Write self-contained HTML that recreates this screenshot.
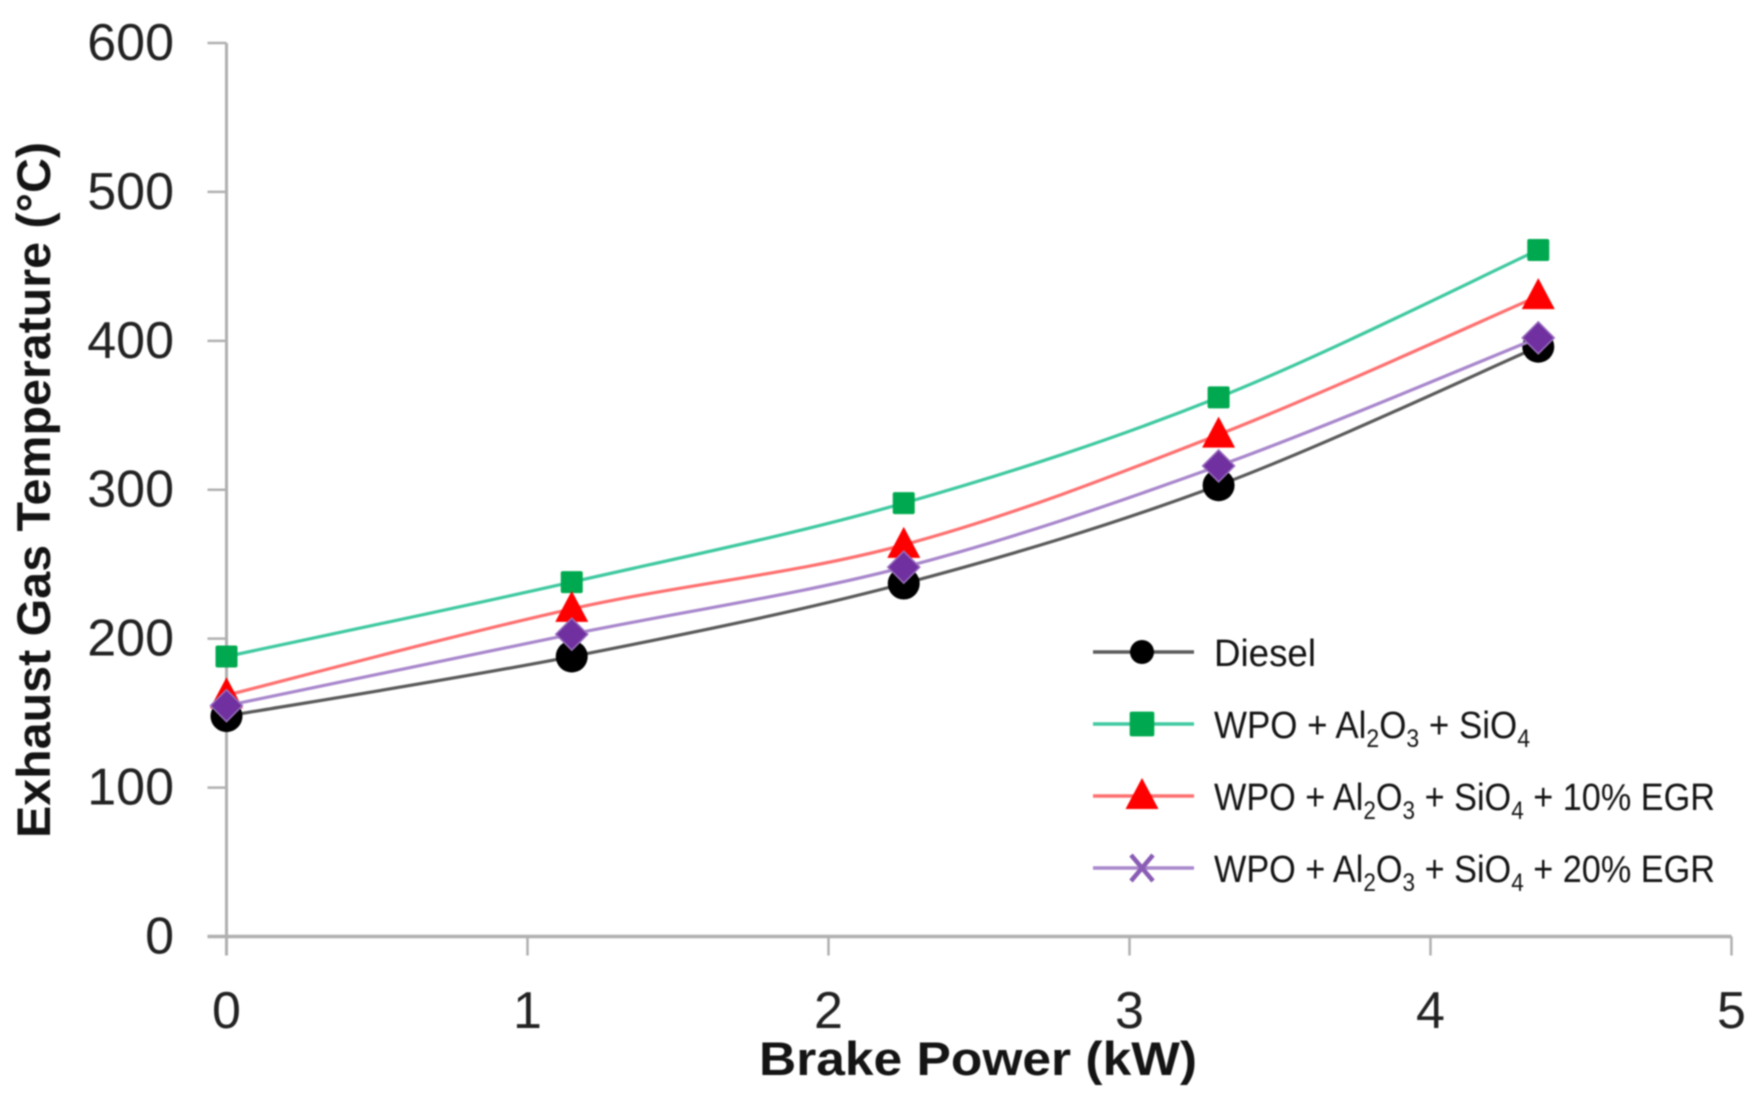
<!DOCTYPE html>
<html lang="en">
<head>
<meta charset="utf-8">
<title>Exhaust Gas Temperature vs Brake Power</title>
<style>
html,body{margin:0;padding:0;background:#fff;width:1753px;height:1097px;overflow:hidden}
svg{display:block;filter:blur(0.9px)}
text{font-family:"Liberation Sans",sans-serif;fill:#222}
.tick{font-size:52px}
.title{font-size:47px;font-weight:bold;fill:#141414}
.legend{font-size:38px;fill:#141414}
.sub{font-size:25px}
</style>
</head>
<body>
<svg id="chart" width="1753" height="1097" viewBox="0 0 1753 1097" xmlns="http://www.w3.org/2000/svg">
  <g id="axes"></g>
  <g id="series"></g>
  <text class="title" transform="translate(50,838) rotate(-90)" textLength="696" lengthAdjust="spacingAndGlyphs">Exhaust Gas Temperature (°C)</text>
  <text class="title" x="759" y="1075" textLength="438" lengthAdjust="spacingAndGlyphs">Brake Power (kW)</text>
  <g id="legend">
    <text class="legend" x="1214" y="666" textLength="102" lengthAdjust="spacingAndGlyphs">Diesel</text>
    <text class="legend" x="1214" y="738" textLength="316" lengthAdjust="spacingAndGlyphs">WPO + Al<tspan class="sub" dy="9">2</tspan><tspan dy="-9">O</tspan><tspan class="sub" dy="9">3</tspan><tspan dy="-9"> + SiO</tspan><tspan class="sub" dy="9">4</tspan></text>
    <text class="legend" x="1214" y="810" textLength="501" lengthAdjust="spacingAndGlyphs">WPO + Al<tspan class="sub" dy="9">2</tspan><tspan dy="-9">O</tspan><tspan class="sub" dy="9">3</tspan><tspan dy="-9"> + SiO</tspan><tspan class="sub" dy="9">4</tspan><tspan dy="-9"> + 10% EGR</tspan></text>
    <text class="legend" x="1214" y="882" textLength="501" lengthAdjust="spacingAndGlyphs">WPO + Al<tspan class="sub" dy="9">2</tspan><tspan dy="-9">O</tspan><tspan class="sub" dy="9">3</tspan><tspan dy="-9"> + SiO</tspan><tspan class="sub" dy="9">4</tspan><tspan dy="-9"> + 20% EGR</tspan></text>
  </g>
</svg>
<script>
const brakePower = [0, 1.147, 2.25, 3.296, 4.358];
const dieselValues = [148, 188, 237, 303, 396];
const wpoValues = [188, 238, 291, 362, 461];
const wpo10EgrValues = [162, 220, 263, 337, 430];
const wpo20EgrValues = [155, 203, 248, 316, 402];
const xTickLabels = [0, 1, 2, 3, 4, 5];
const yTickLabels = [0, 100, 200, 300, 400, 500, 600];

const NS = 'http://www.w3.org/2000/svg';
const X0 = 226.5, XPER = 301, Y0 = 936.5, YPER = 1.4892;
function xScale(v) { return X0 + v * XPER; }
function yScale(v) { return Y0 - v * YPER; }
function make(tag, attrs, parent) {
  const el = document.createElementNS(NS, tag);
  for (const k in attrs) el.setAttribute(k, attrs[k]);
  parent.appendChild(el);
  return el;
}
const axes = document.getElementById('axes');
const seriesLayer = document.getElementById('series');
const legend = document.getElementById('legend');
const AXIS = '#b0b0b0';

const yAxisLine = make('line', {x1: xScale(0), x2: xScale(0), y1: yScale(600), y2: yScale(0) + 19, stroke: AXIS, 'stroke-width': 3}, axes);


const xAxisLine = make('line', {x1: xScale(0) - 19, x2: xScale(5), y1: yScale(0), y2: yScale(0), stroke: AXIS, 'stroke-width': 3.5}, axes);



yTickLabels.forEach(function (t) {
  const tick = make('line', {x1: xScale(0) - 19, x2: xScale(0), y1: yScale(t), y2: yScale(t), stroke: AXIS, 'stroke-width': 2.5}, axes);
  
  
  const label = make('text', {class: 'tick', x: 174, y: yScale(t) + 17, 'text-anchor': 'end'}, axes);
  
  
  label.textContent = t;
});
xTickLabels.forEach(function (t) {
  const tick = make('line', {x1: xScale(t), x2: xScale(t), y1: yScale(0), y2: yScale(0) + 19, stroke: AXIS, 'stroke-width': 2.5}, axes);
  
  
  const label = make('text', {class: 'tick', x: xScale(t), y: 1028, 'text-anchor': 'middle'}, axes);
  
  
  label.textContent = t;
});

function smoothPath(xs, ys) {
  const pts = xs.map(function (x, i) { return [xScale(x), yScale(ys[i])]; });
  let d = 'M' + pts[0][0] + ' ' + pts[0][1];
  for (let i = 0; i < pts.length - 1; i++) {
    const p0 = pts[Math.max(i - 1, 0)], p1 = pts[i], p2 = pts[i + 1], p3 = pts[Math.min(i + 2, pts.length - 1)];
    const c1x = p1[0] + (p2[0] - p0[0]) / 6, c1y = p1[1] + (p2[1] - p0[1]) / 6;
    const c2x = p2[0] - (p3[0] - p1[0]) / 6, c2y = p2[1] - (p3[1] - p1[1]) / 6;
    d += ' C' + c1x + ' ' + c1y + ' ' + c2x + ' ' + c2y + ' ' + p2[0] + ' ' + p2[1];
  }
  return d;
}
function drawMarker(kind, cx, cy, parent, k) {
  let el;
  if (kind === 'circle') {
    el = make('circle', {cx: cx, cy: cy, r: 16 * k, fill: '#000'}, parent);
  } else if (kind === 'square') {
    el = make('rect', {x: cx - 11 * k, y: cy - 11 * k, width: 22 * k, height: 22 * k, rx: 2, fill: '#00a94f'}, parent);
  } else if (kind === 'triangle') {
    el = make('polygon', {points: [cx, cy - 18, cx + 16.5, cy + 13, cx - 16.5, cy + 13].join(' '), fill: '#ff0000'}, parent);
  } else if (kind === 'diamond') {
    el = make('polygon', {points: [cx, cy - 16, cx + 16, cy, cx, cy + 16, cx - 16, cy].join(' '), fill: '#7030a0', stroke: '#9a70bd', 'stroke-width': 1.5}, parent);
  } else {
    el = make('path', {d: 'M' + (cx - 11) + ' ' + (cy - 13) + 'L' + (cx + 11) + ' ' + (cy + 13) + 'M' + (cx + 11) + ' ' + (cy - 13) + 'L' + (cx - 11) + ' ' + (cy + 13), stroke: '#8a5cb5', 'stroke-width': 4.5, fill: 'none'}, parent);
  }
  return el;
}
const seriesDefs = [
  {name: 'diesel', values: dieselValues, line: '#5a5a5a', marker: 'circle', legendMarker: 'circle', legendY: 652, legendScale: 0.75},
  {name: 'wpo', values: wpoValues, line: '#3fc9a0', marker: 'square', legendMarker: 'square', legendY: 724, legendScale: 1.12},
  {name: 'wpo-10-egr', values: wpo10EgrValues, line: '#ff7070', marker: 'triangle', legendMarker: 'triangle', legendY: 796, legendScale: 1},
  {name: 'wpo-20-egr', values: wpo20EgrValues, line: '#a887cc', marker: 'diamond', legendMarker: 'cross', legendY: 868, legendScale: 1}
];
seriesDefs.forEach(function (s) {
  const line = make('path', {d: smoothPath(brakePower, s.values), fill: 'none', stroke: s.line, 'stroke-width': 3.2}, seriesLayer);
  
  
  s.values.forEach(function (v, i) {
    const m = drawMarker(s.marker, xScale(brakePower[i]), yScale(v), seriesLayer, 1);
    
    
  });
  const key = make('line', {x1: 1093, x2: 1194, y1: s.legendY, y2: s.legendY, stroke: s.line, 'stroke-width': 3.5}, legend);
  
  
  const km = drawMarker(s.legendMarker, 1142, s.legendY, legend, s.legendScale);
  
  
});
</script>
</body>
</html>
